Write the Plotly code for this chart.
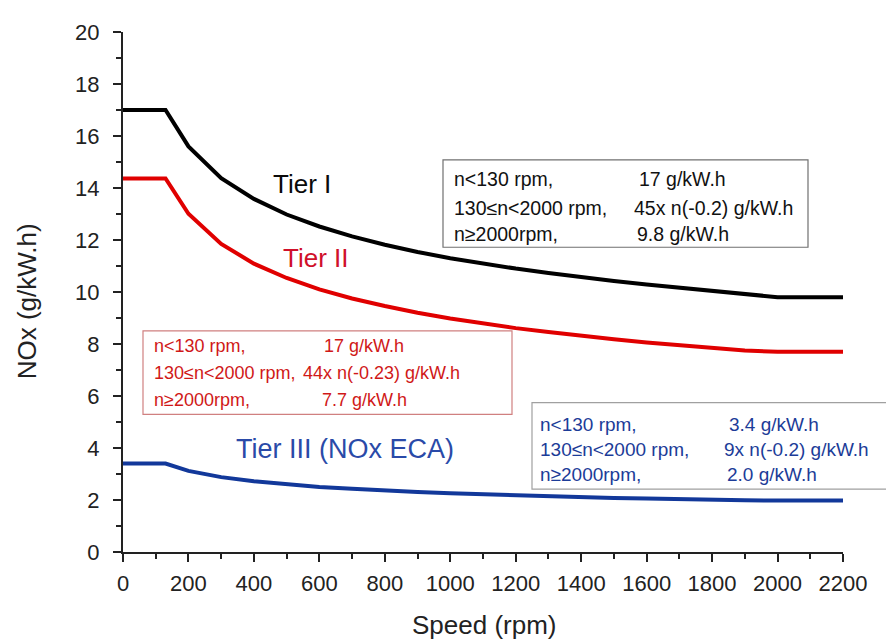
import plotly.graph_objects as go

# ---- data ----
speed = [0, 130, 200, 300, 400, 500, 600, 700, 800, 900, 1000, 1100, 1200,
         1300, 1400, 1500, 1600, 1700, 1800, 1900, 2000, 2200]
tier1 = [17.0, 17.0, 15.60, 14.38, 13.58, 12.98, 12.52, 12.14, 11.82, 11.54, 11.30,
         11.09, 10.90, 10.73, 10.57, 10.42, 10.29, 10.17, 10.05, 9.94, 9.80, 9.80]
tier2 = [14.37, 14.37, 13.01, 11.85, 11.09, 10.54, 10.10, 9.75, 9.46, 9.20, 8.98,
         8.79, 8.61, 8.46, 8.31, 8.18, 8.06, 7.95, 7.85, 7.75, 7.70, 7.70]
tier3 = [3.40, 3.40, 3.12, 2.88, 2.72, 2.60, 2.50, 2.43, 2.36, 2.31, 2.26,
         2.22, 2.18, 2.15, 2.11, 2.08, 2.06, 2.03, 2.01, 1.99, 1.98, 1.98]

x_ticks = [0, 200, 400, 600, 800, 1000, 1200, 1400, 1600, 1800, 2000, 2200]
y_ticks = [0, 2, 4, 6, 8, 10, 12, 14, 16, 18, 20]

x_title = "Speed (rpm)"
y_title = "NOx (g/kW.h)"
tier_names = ["Tier I", "Tier II", "Tier III (NOx ECA)"]
box1_left = ["n<130 rpm,", "130≤n<2000 rpm,", "n≥2000rpm,"]
box1_right = ["17 g/kW.h", "45x n(-0.2) g/kW.h", "9.8 g/kW.h"]
box2_left = ["n<130 rpm,", "130≤n<2000 rpm,", "n≥2000rpm,"]
box2_right = ["17 g/kW.h", "44x n(-0.23) g/kW.h", "7.7 g/kW.h"]
box3_left = ["n<130 rpm,", "130≤n<2000 rpm,", "n≥2000rpm,"]
box3_right = ["3.4 g/kW.h", "9x n(-0.2) g/kW.h", "2.0 g/kW.h"]

BLACK = "#000000"
RED = "#e00000"
BLUE = "#12389a"
AX = "#222222"
FONT = "Liberation Sans, Arial, sans-serif"

# the page body has an 8px margin, so the figure is drawn 8px in from the corner
OFF = 8
WIN_W, WIN_H = 894, 641
PL, PR, PT, PB = 123, 843, 23, 552   # plot area in window pixels
W, H = WIN_W - OFF, WIN_H - OFF


def px(x):
    return (x - PL) / (PR - PL)


def py(y):
    return (PB - y) / (PB - PT)


fig = go.Figure()
for ys, col, name in [(tier1, BLACK, tier_names[0]), (tier2, RED, tier_names[1]),
                      (tier3, BLUE, tier_names[2])]:
    fig.add_trace(go.Scatter(x=speed, y=ys, mode="lines", name=name,
                             line=dict(color=col, width=4), showlegend=False))

annotations = []
annotations.append(dict(x=px(302), y=py(178), text=tier_names[0],
                        font=dict(size=26, color="#0a0a0a")))
annotations.append(dict(x=px(315), y=py(253), text=tier_names[1],
                        font=dict(size=26, color="#d0102a")))
annotations.append(dict(x=px(345), y=py(447), text=tier_names[2],
                        font=dict(size=27, color="#2a4aa8")))
annotations.append(dict(x=px(484), y=py(626), text=x_title,
                        font=dict(size=26, color=AX)))
annotations.append(dict(x=px(27), y=py(297), text=y_title, textangle=-90,
                        font=dict(size=26, color=AX)))

rows_spec = [
    (box1_left, box1_right, 452, [637, 632, 635], [173, 202, 228], "#111111", 19.5),
    (box2_left, box2_right, 152, [322, 301, 320], [342, 370, 397], "#d01818", 18),
    (box3_left, box3_right, 538, [727, 722, 725], [422, 448, 473], "#1c3c98", 19),
]
for left, right, lx, rxs, rys, col, fs in rows_spec:
    for i in range(3):
        annotations.append(dict(x=px(lx), y=py(rys[i]), text=left[i], xanchor="left",
                                font=dict(size=fs, color=col)))
        annotations.append(dict(x=px(rxs[i]), y=py(rys[i]), text=right[i], xanchor="left",
                                font=dict(size=fs, color=col)))

for a in annotations:
    a.update(xref="paper", yref="paper", showarrow=False)
    a.setdefault("xanchor", "center")
    a["yanchor"] = "middle"
    a["font"]["family"] = FONT

shapes = []
for (x0, y0, x1, y1, col) in [(443, 153, 808, 242, "#707070"),
                              (143, 327, 512, 412, "#d08080"),
                              (532, 400, 900, 488, "#a0a0a0")]:
    shapes.append(dict(type="rect", xref="paper", yref="paper",
                       x0=px(x0), x1=px(x1), y0=py(y1), y1=py(y0),
                       line=dict(color=col, width=1.2), fillcolor="rgba(0,0,0,0)"))

fig.update_layout(
    width=W, height=H,
    margin=dict(l=PL - OFF, r=W - (PR - OFF), t=PT - OFF, b=H - (PB - OFF)),
    paper_bgcolor="white", plot_bgcolor="white",
    font=dict(family=FONT, color=AX),
    annotations=annotations, shapes=shapes,
    xaxis=dict(range=[0, 2200], tickvals=x_ticks, showgrid=False, zeroline=False,
               showline=True, linecolor=AX, linewidth=2,
               ticks="outside", ticklen=8, tickwidth=2, tickcolor=AX,
               tickfont=dict(size=22, color=AX), ticklabelstandoff=3,
               minor=dict(ticks="outside", ticklen=5, tickwidth=2, dtick=100,
                          tickcolor=AX, showgrid=False)),
    yaxis=dict(range=[0, 20], tickvals=y_ticks, showgrid=False, zeroline=False,
               showline=True, linecolor=AX, linewidth=2,
               ticks="outside", ticklen=8, tickwidth=2, tickcolor=AX,
               tickfont=dict(size=22, color=AX), ticklabelstandoff=9,
               minor=dict(ticks="outside", ticklen=5, tickwidth=2, dtick=1,
                          tickcolor=AX, showgrid=False)),
)

fig.write_html("out.html")
